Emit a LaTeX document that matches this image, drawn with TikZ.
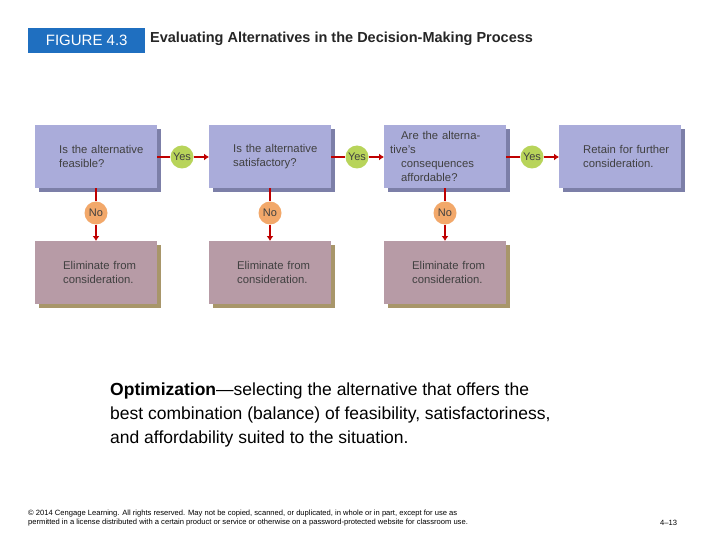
\documentclass[tikz,border=0pt]{standalone}
\usepackage{fontspec}
\setmainfont{Liberation Sans}
\usetikzlibrary{arrows.meta}
\begin{document}
\begin{tikzpicture}[x=1pt,y=-1pt,
  qbox/.style={fill=qcol,minimum width=122pt,minimum height=63pt,anchor=north west,text width=110pt,align=left,font=\fontsize{11.3}{14}\selectfont,text=black!75,inner sep=0pt},
  ebox/.style={fill=ecol,minimum width=122pt,minimum height=63pt,anchor=north west,text width=110pt,align=left,font=\fontsize{11.3}{14}\selectfont,text=black!75,inner sep=0pt},
  yesc/.style={circle,fill=ycol,minimum size=23pt,inner sep=0pt,font=\fontsize{11}{12}\selectfont,text=black!75},
  noc/.style={circle,fill=ncol,minimum size=23pt,inner sep=0pt,font=\fontsize{11}{12}\selectfont,text=black!75},
  arr/.style={draw=red!75!black,line width=2.2pt,-{Latex[length=5pt,width=7pt]}},
  ln/.style={draw=red!75!black,line width=2.2pt}]
\definecolor{qcol}{HTML}{AAACDA}
\definecolor{qsh}{HTML}{7C7FA8}
\definecolor{ecol}{HTML}{B79BA6}
\definecolor{esh}{HTML}{A8966A}
\definecolor{ycol}{HTML}{B8D45A}
\definecolor{ncol}{HTML}{F2A86A}
\definecolor{hdr}{HTML}{1F6FC0}
\useasboundingbox (0,0) rectangle (720,540);
\fill[white] (0,0) rectangle (720,540);
\node[fill=hdr,text=white,minimum width=117pt,minimum height=25pt,anchor=north west,font=\fontsize{15}{17}\selectfont,inner sep=0pt] (fig) at (28,28) {FIGURE 4.3};
\node[anchor=west,font=\fontsize{14.5}{17}\selectfont\bfseries,inner sep=0pt,text=black!85] (title) at (150,39) {Evaluating Alternatives in the Decision-Making Process};
% shadows
\foreach \x in {35,209,384,559} \fill[qsh] (\x+4,129) rectangle (\x+126,192);
\foreach \x in {35,209,384} \fill[esh] (\x+4,245) rectangle (\x+126,308);
\node[qbox] (q1) at (35,125) {\hspace*{18pt}Is the alternative\\\hspace*{18pt}feasible?};
\node[qbox] (q2) at (209,125) {\hspace*{18pt}Is the alternative\\\hspace*{18pt}satisfactory?};
\node[qbox] (q3) at (384,125) {\hspace*{11pt}Are the alternative's\\\hspace*{11pt}consequences\\\hspace*{11pt}affordable?};
\node[qbox] (r) at (559,125) {\hspace*{18pt}Retain for further\\\hspace*{18pt}consideration.};
\node[ebox] (e1) at (35,241) {\hspace*{22pt}Eliminate from\\\hspace*{22pt}consideration.};
\node[ebox] (e2) at (209,241) {\hspace*{22pt}Eliminate from\\\hspace*{22pt}consideration.};
\node[ebox] (e3) at (384,241) {\hspace*{22pt}Eliminate from\\\hspace*{22pt}consideration.};
\node[yesc] (y1) at (182,157) {Yes};
\node[yesc] (y2) at (357,157) {Yes};
\node[yesc] (y3) at (532,157) {Yes};
\node[noc] (n1) at (96,213) {No};
\node[noc] (n2) at (270,213) {No};
\node[noc] (n3) at (445,213) {No};
\draw[ln] (q1.east|-y1) -- (y1); \draw[arr] (y1) -- (q2.west|-y1);
\draw[ln] (q2.east|-y2) -- (y2); \draw[arr] (y2) -- (q3.west|-y2);
\draw[ln] (q3.east|-y3) -- (y3); \draw[arr] (y3) -- (r.west|-y3);
\draw[ln] (n1|-q1.south) -- (n1); \draw[arr] (n1) -- (n1|-e1.north);
\draw[ln] (n2|-q2.south) -- (n2); \draw[arr] (n2) -- (n2|-e2.north);
\draw[ln] (n3|-q3.south) -- (n3); \draw[arr] (n3) -- (n3|-e3.north);
\node[anchor=north west,align=left,font=\fontsize{17.5}{24}\selectfont,inner sep=0pt] (opt) at (110,383) {\textbf{Optimization}—selecting the alternative that offers the\\best combination (balance) of feasibility, satisfactoriness,\\and affordability suited to the situation.};
\node[anchor=north west,align=left,font=\fontsize{7.6}{9}\selectfont,inner sep=0pt] (copy) at (28,510) {© 2014 Cengage Learning. All rights reserved. May not be copied, scanned, or duplicated, in whole or in part, except for use as\\permitted in a license distributed with a certain product or service or otherwise on a password-protected website for classroom use.};
\node[anchor=west,font=\fontsize{7.6}{9}\selectfont,inner sep=0pt] (pg) at (660,523) {4–13};
\end{tikzpicture}
\end{document}
